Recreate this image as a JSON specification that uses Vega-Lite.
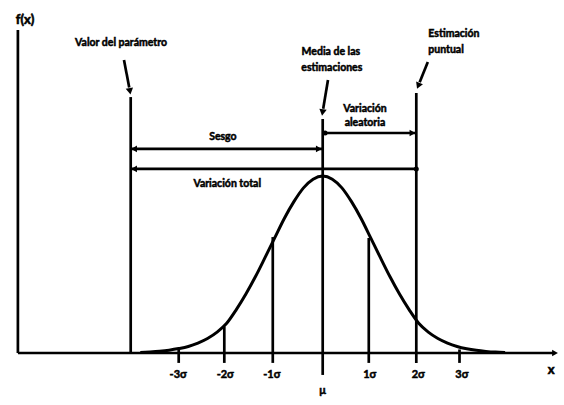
{
  "$schema": "https://vega.github.io/schema/vega-lite/v6.json",
  "width": 564,
  "height": 405,
  "autosize": "none",
  "padding": 0,
  "background": "white",
  "config": {"view": {"stroke": null}},
  "datasets": {
    "curve": [
      {"x": -3.8, "y": 0.003}, {"x": -3.6, "y": 0.006}, {"x": -3.4, "y": 0.01}, {"x": -3.2, "y": 0.016},
      {"x": -3.0, "y": 0.025}, {"x": -2.8, "y": 0.037}, {"x": -2.6, "y": 0.056}, {"x": -2.4, "y": 0.082},
      {"x": -2.2, "y": 0.118}, {"x": -2.0, "y": 0.168}, {"x": -1.8, "y": 0.245}, {"x": -1.6, "y": 0.333},
      {"x": -1.4, "y": 0.432}, {"x": -1.2, "y": 0.54}, {"x": -1.0, "y": 0.65}, {"x": -0.8, "y": 0.76},
      {"x": -0.6, "y": 0.855}, {"x": -0.4, "y": 0.933}, {"x": -0.2, "y": 0.982}, {"x": 0, "y": 1.0},
      {"x": 0.2, "y": 0.982}, {"x": 0.4, "y": 0.933}, {"x": 0.6, "y": 0.855}, {"x": 0.8, "y": 0.76},
      {"x": 1.0, "y": 0.65}, {"x": 1.2, "y": 0.54}, {"x": 1.4, "y": 0.432}, {"x": 1.6, "y": 0.333},
      {"x": 1.8, "y": 0.245}, {"x": 2.0, "y": 0.168}, {"x": 2.2, "y": 0.118}, {"x": 2.4, "y": 0.082},
      {"x": 2.6, "y": 0.056}, {"x": 2.8, "y": 0.037}, {"x": 3.0, "y": 0.024}, {"x": 3.2, "y": 0.015},
      {"x": 3.4, "y": 0.009}, {"x": 3.6, "y": 0.005}, {"x": 3.8, "y": 0.003}
    ],
    "segments": [
      {"x": -6.35, "y": 0, "x2": -6.35, "y2": 1.825},
      {"x": -6.35, "y": 0, "x2": 4.8, "y2": 0},
      {"x": -4.0, "y": 0, "x2": -4.0, "y2": 1.446},
      {"x": 0, "y": -0.124, "x2": 0, "y2": 1.322},
      {"x": 1.95, "y": -0.056, "x2": 1.95, "y2": 1.469},
      {"x": -3.0, "y": -0.056, "x2": -3.0, "y2": 0.02},
      {"x": -2.05, "y": -0.056, "x2": -2.05, "y2": 0.149},
      {"x": -1.04, "y": -0.056, "x2": -1.04, "y2": 0.655},
      {"x": 0.96, "y": -0.056, "x2": 0.96, "y2": 0.65},
      {"x": 2.85, "y": -0.056, "x2": 2.85, "y2": 0.02},
      {"x": 0, "y": 1.243, "x2": 1.95, "y2": 1.243},
      {"x": -4.0, "y": 1.153, "x2": 0, "y2": 1.153},
      {"x": -4.0, "y": 1.04, "x2": 1.95, "y2": 1.04},
      {"x": -4.14, "y": 1.655, "x2": -4.03, "y2": 1.5},
      {"x": 0.11, "y": 1.542, "x2": 0.01, "y2": 1.38},
      {"x": 2.19, "y": 1.644, "x2": 2.02, "y2": 1.53}
    ],
    "headsLeft": [{"x": -3.93, "y": 1.153}, {"x": -3.93, "y": 1.04}],
    "headsRight": [{"x": 1.87, "y": 1.243}, {"x": -0.08, "y": 1.153}, {"x": 4.84, "y": 0}],
    "dots": [{"x": 0.05, "y": 1.243}, {"x": 1.95, "y": 1.04}],
    "headValor": [{"x": -4.02, "y": 1.485}],
    "headMedia": [{"x": 0.0, "y": 1.365}],
    "headEst": [{"x": 2.0, "y": 1.515}],
    "labelsCenter": [
      {"x": -4.2, "y": 1.751, "label": "Valor del parámetro"},
      {"x": 0.17, "y": 1.70, "label": "Media de las"},
      {"x": 0.19, "y": 1.61, "label": "estimaciones"},
      {"x": 0.88, "y": 1.378, "label": "Variación"},
      {"x": 0.88, "y": 1.299, "label": "aleatoria"},
      {"x": -2.08, "y": 1.22, "label": "Sesgo"},
      {"x": -1.99, "y": 0.955, "label": "Variación total"}
    ],
    "labelsLeft": [
      {"x": 2.2, "y": 1.8, "label": "Estimación"},
      {"x": 2.2, "y": 1.712, "label": "puntual"}
    ],
    "ticks": [
      {"x": -3.01, "y": -0.124, "label": "-3σ"},
      {"x": -2.03, "y": -0.124, "label": "-2σ"},
      {"x": -1.06, "y": -0.124, "label": "-1σ"},
      {"x": 0.98, "y": -0.124, "label": "1σ"},
      {"x": 1.99, "y": -0.124, "label": "2σ"},
      {"x": 2.9, "y": -0.124, "label": "3σ"},
      {"x": 0.0, "y": -0.215, "label": "μ"}
    ],
    "axisTitles": [
      {"x": -6.2, "y": 1.881, "label": "f(x)"},
      {"x": 4.76, "y": -0.096, "label": "x"}
    ]
  },
  "encoding": {
    "x": {"field": "x", "type": "quantitative", "scale": {"domain": [-6.7229, 5.0271], "nice": false, "zero": false}, "axis": null},
    "y": {"field": "y", "type": "quantitative", "scale": {"domain": [-0.2938, 1.9944], "nice": false, "zero": false}, "axis": null}
  },
  "layer": [
    {"data": {"name": "segments"}, "mark": {"type": "rule", "color": "black", "strokeWidth": 2.7},
     "encoding": {"x2": {"field": "x2"}, "y2": {"field": "y2"}}},
    {"data": {"name": "curve"}, "mark": {"type": "line", "color": "black", "strokeWidth": 3, "interpolate": "monotone"}, "encoding": {}},
    {"data": {"name": "headsLeft"}, "mark": {"type": "point", "shape": "triangle-left", "filled": true, "color": "black", "opacity": 1, "size": 45}, "encoding": {}},
    {"data": {"name": "headsRight"}, "mark": {"type": "point", "shape": "triangle-right", "filled": true, "color": "black", "opacity": 1, "size": 45}, "encoding": {}},
    {"data": {"name": "dots"}, "mark": {"type": "point", "shape": "circle", "filled": true, "color": "black", "opacity": 1, "size": 25}, "encoding": {}},
    {"data": {"name": "headValor"}, "mark": {"type": "point", "shape": "triangle", "angle": 170, "filled": true, "color": "black", "opacity": 1, "size": 55}, "encoding": {}},
    {"data": {"name": "headMedia"}, "mark": {"type": "point", "shape": "triangle", "angle": 189, "filled": true, "color": "black", "opacity": 1, "size": 55}, "encoding": {}},
    {"data": {"name": "headEst"}, "mark": {"type": "point", "shape": "triangle", "angle": 203, "filled": true, "color": "black", "opacity": 1, "size": 55}, "encoding": {}},
    {"data": {"name": "labelsCenter"}, "mark": {"type": "text", "font": "Lato", "fontWeight": "bold", "fontSize": 10.5, "color": "black", "stroke": "black", "strokeWidth": 0.5, "align": "center", "baseline": "middle"},
     "encoding": {"text": {"field": "label"}}},
    {"data": {"name": "labelsLeft"}, "mark": {"type": "text", "font": "Lato", "fontWeight": "bold", "fontSize": 10.5, "color": "black", "stroke": "black", "strokeWidth": 0.5, "align": "left", "baseline": "middle"},
     "encoding": {"text": {"field": "label"}}},
    {"data": {"name": "ticks"}, "mark": {"type": "text", "font": "Lato", "fontWeight": "bold", "fontSize": 11, "color": "black", "stroke": "black", "strokeWidth": 0.5, "align": "center", "baseline": "middle"},
     "encoding": {"text": {"field": "label"}}},
    {"data": {"name": "axisTitles"}, "mark": {"type": "text", "font": "Lato", "fontWeight": "bold", "fontSize": 13, "color": "black", "stroke": "black", "strokeWidth": 0.6, "align": "center", "baseline": "middle"},
     "encoding": {"text": {"field": "label"}}}
  ]
}
